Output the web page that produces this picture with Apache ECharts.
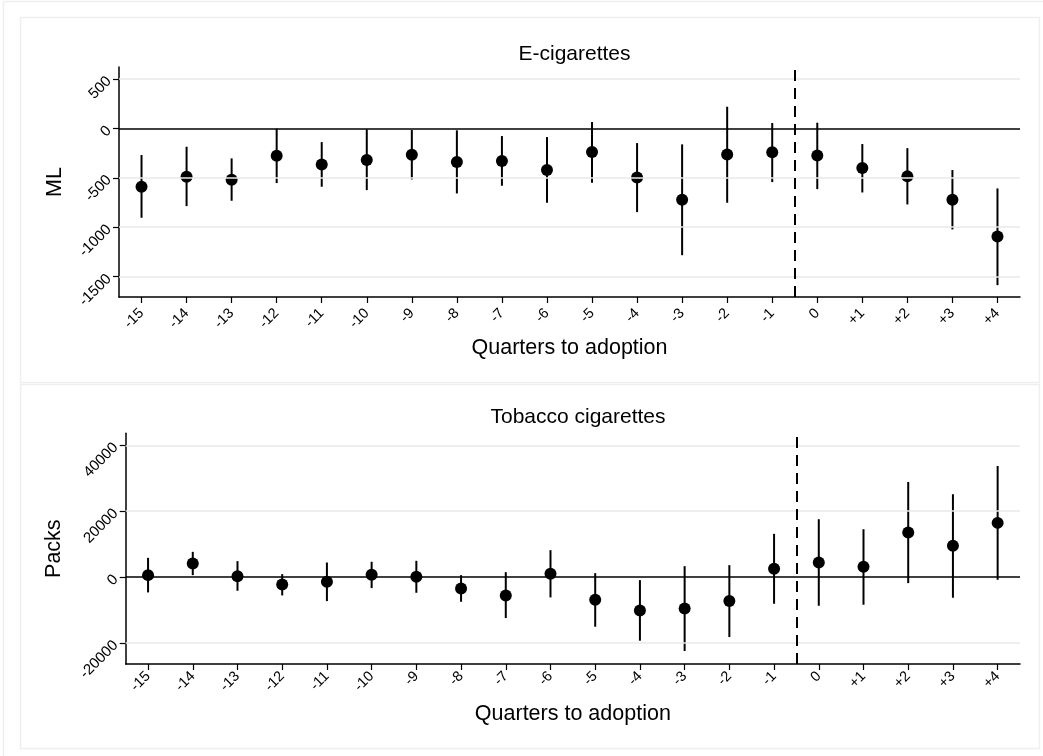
<!DOCTYPE html>
<html>
<head>
<meta charset="utf-8">
<script src="https://cdn.jsdelivr.net/npm/echarts@6/dist/echarts.min.js"></script>
<style>
html,body{margin:0;padding:0;background:#fff;}
#chart{width:1043px;height:756px;}
</style>
</head>
<body>
<div id="chart"></div>
<script>
// Quarters relative to adoption
const quarters = [-15,-14,-13,-12,-11,-10,-9,-8,-7,-6,-5,-4,-3,-2,-1,0,1,2,3,4];
const quarterLabels = ['-15','-14','-13','-12','-11','-10','-9','-8','-7','-6','-5','-4','-3','-2','-1','0','+1','+2','+3','+4'];

// E-cigarettes (ML)
const ecigEst = [-591,-490,-520,-277,-365,-321,-267,-341,-331,-422,-240,-497,-723,-264,-243,-274,-402,-486,-723,-1094];
const ecigLo  = [-905,-787,-733,-554,-591,-625,-517,-659,-581,-753,-551,-848,-1284,-753,-544,-615,-649,-770,-1023,-1587];
const ecigHi  = [-270,-186,-304,-3,-139,-10,-17,-20,-78,-88,64,-149,-162,219,54,57,-159,-200,-422,-608];
const ecigTicks = [-1500,-1000,-500,0,500];
const ecigRange = [-1707, 621];

// Tobacco cigarettes (Packs)
const tobEst = [606,4150,300,-2220,-1410,700,100,-3430,-5550,1010,-6870,-10100,-9500,-7270,2520,4440,3130,13540,9490,16460];
const tobLo  = [-4640,600,-4140,-5550,-7270,-3330,-4750,-7470,-12420,-6160,-15050,-19290,-22420,-18180,-8080,-8690,-8380,-1820,-6260,-810];
const tobHi  = [5850,7670,4850,900,4440,4650,4950,600,1510,8180,1210,-910,3330,3640,13130,17570,14540,28880,25150,33730];
const tobTicks = [-20000,0,20000,40000];
const tobRange = [-26360, 43640];

const xRange = [-15.5, 4.5];
const adoptionLine = -0.5;

const chart = echarts.init(document.getElementById('chart'));
const FONT = '"Liberation Sans", Arial, sans-serif';

function errSeries(idx, lo, hi) {
  return {
    type: 'custom',
    xAxisIndex: idx, yAxisIndex: idx,
    data: quarters.map((q, i) => [q, lo[i], hi[i]]),
    renderItem: function (params, api) {
      const p1 = api.coord([api.value(0), api.value(1)]);
      const p2 = api.coord([api.value(0), api.value(2)]);
      return {type: 'line', shape: {x1: p1[0], y1: p1[1], x2: p2[0], y2: p2[1]},
              style: {stroke: '#000', lineWidth: 2}};
    },
    z: 3, silent: true
  };
}
function ptSeries(idx, est) {
  return {
    type: 'scatter', xAxisIndex: idx, yAxisIndex: idx,
    data: quarters.map((q, i) => [q, est[i]]),
    symbol: 'circle', symbolSize: 12,
    itemStyle: {color: '#000', opacity: 1},
    z: 4, silent: true,
    markLine: {
      silent: true, symbol: 'none', label: {show: false}, animation: false,
      data: [
        {yAxis: 0, lineStyle: {color: '#000', width: 1.5, type: 'solid'}},
        {xAxis: adoptionLine, lineStyle: {color: '#000', width: 2, type: [11, 7]}}
      ]
    }
  };
}
function gridLines(idx, ticks) {
  return {
    type: 'line', xAxisIndex: idx, yAxisIndex: idx, data: [], z: 1,
    markLine: {
      silent: true, symbol: 'none', label: {show: false}, animation: false,
      data: ticks.filter(t => t !== 0).map(t => ({yAxis: t, lineStyle: {color: '#e8e8e8', width: 1.5, type: 'solid'}}))
    }
  };
}
function xAxis(idx, gap, margin) {
  return {
    type: 'value', gridIndex: idx, min: xRange[0], max: xRange[1],
    axisLine: {show: true, onZero: false, lineStyle: {color: '#000', width: 1.5}},
    axisTick: {show: true, customValues: quarters, length: 6, lineStyle: {color: '#000', width: 1.2}},
    axisLabel: {customValues: quarters, rotate: 45, color: '#000', fontSize: 14.5, fontFamily: FONT, margin: margin,
      formatter: v => quarterLabels[quarters.indexOf(Math.round(v))]},
    splitLine: {show: false},
    name: 'Quarters to adoption', nameLocation: 'middle', nameGap: gap,
    nameTextStyle: {color: '#000', fontSize: 21.5, fontFamily: FONT}
  };
}
function yAxis(idx, range, ticks, name, gap) {
  return {
    type: 'value', gridIndex: idx, min: range[0], max: range[1],
    axisLine: {show: true, onZero: false, lineStyle: {color: '#000', width: 1.5}},
    axisTick: {show: true, customValues: ticks, length: 6, lineStyle: {color: '#000', width: 1.2}},
    axisLabel: {customValues: ticks, rotate: 45, color: '#000', fontSize: 15, fontFamily: FONT, margin: 10,
      formatter: v => String(v)},
    splitLine: {show: false},
    name: name, nameLocation: 'middle', nameGap: gap, nameRotate: 90,
    nameTextStyle: {color: '#000', fontSize: 21.5, fontFamily: FONT}
  };
}

chart.setOption({
  animation: false,
  backgroundColor: '#fff',
  graphic: [
    {type: 'rect', shape: {x: 3.5, y: 1.5, width: 1060, height: 770}, style: {fill: 'none', stroke: '#efefef', lineWidth: 1.5}, z: -10},
    {type: 'rect', shape: {x: 20.5, y: 17.5, width: 1019, height: 365}, style: {fill: '#fff', stroke: '#efefef', lineWidth: 1.5}, z: -10},
    {type: 'rect', shape: {x: 20.5, y: 384.5, width: 1019, height: 364}, style: {fill: '#fff', stroke: '#efefef', lineWidth: 1.5}, z: -10}
  ],
  title: [
    {text: 'E-cigarettes', left: 569.5, textAlign: 'center', top: 39, textStyle: {color: '#000', fontSize: 21, fontWeight: 'normal', fontFamily: FONT}},
    {text: 'Tobacco cigarettes', left: 573, textAlign: 'center', top: 402, textStyle: {color: '#000', fontSize: 21, fontWeight: 'normal', fontFamily: FONT}}
  ],
  grid: [
    {left: 119, top: 67, width: 901, height: 230},
    {left: 125.7, top: 433.3, width: 894.3, height: 230.7}
  ],
  xAxis: [xAxis(0, 40, 14), xAxis(1, 39, 10)],
  yAxis: [yAxis(0, ecigRange, ecigTicks, 'ML', 53), yAxis(1, tobRange, tobTicks, 'Packs', 61)],
  series: [
    gridLines(0, ecigTicks), errSeries(0, ecigLo, ecigHi), ptSeries(0, ecigEst),
    gridLines(1, tobTicks), errSeries(1, tobLo, tobHi), ptSeries(1, tobEst)
  ]
});
</script>
</body>
</html>
